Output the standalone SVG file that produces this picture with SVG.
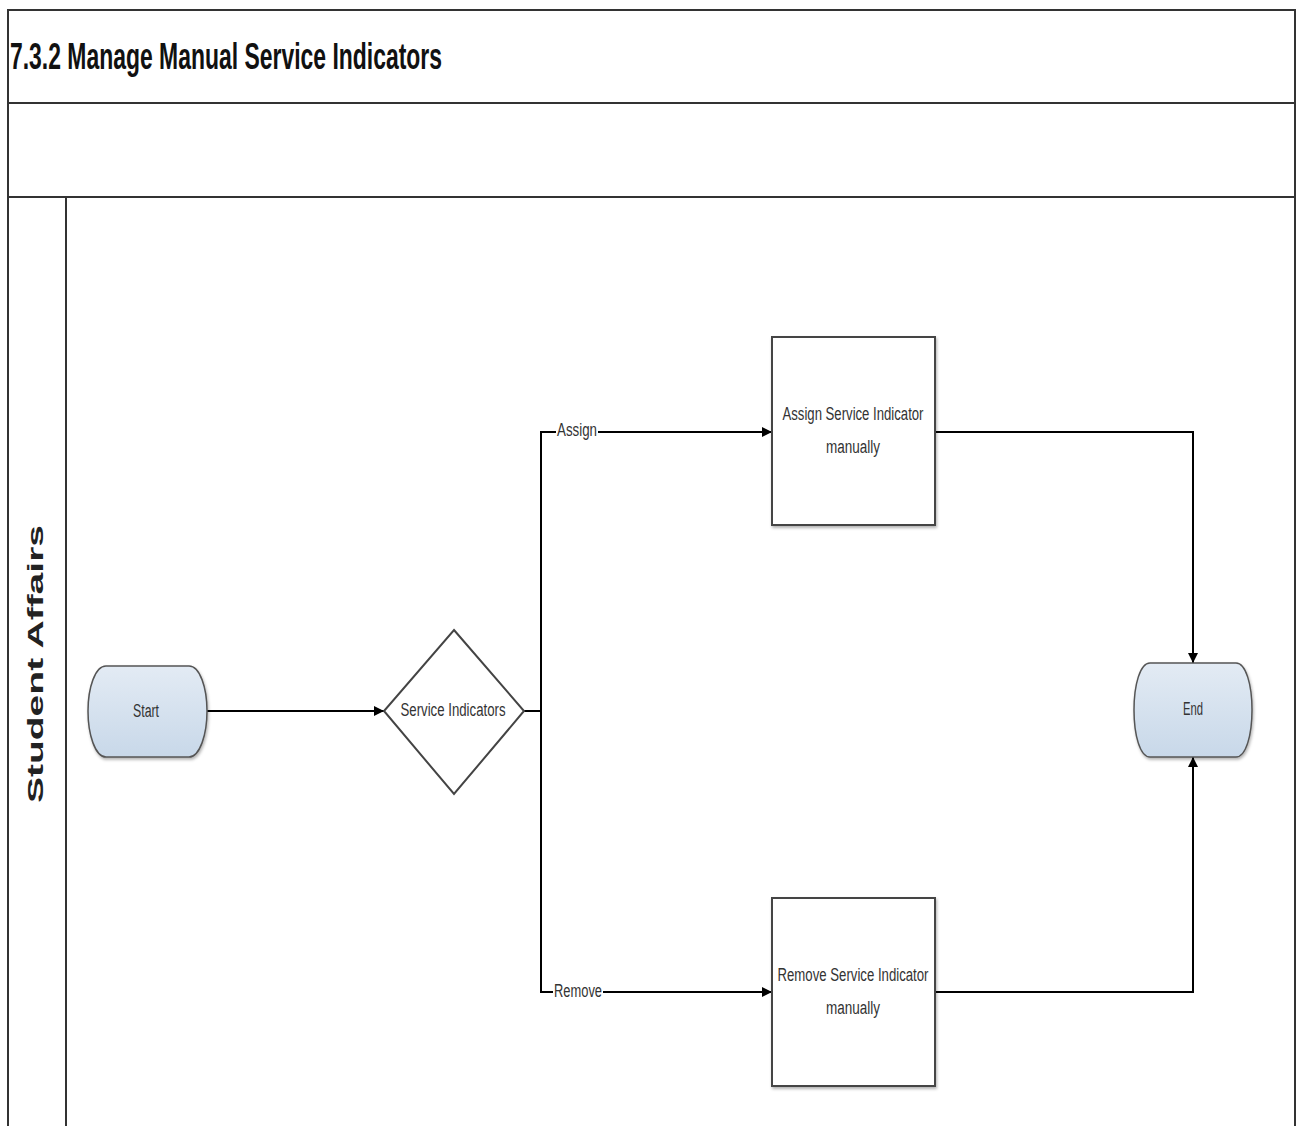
<svg xmlns="http://www.w3.org/2000/svg" width="1299" height="1126" viewBox="0 0 1299 1126">
<defs>
<linearGradient id="term" x1="0" y1="0" x2="0" y2="1">
<stop offset="0" stop-color="#e3ebf4"/>
<stop offset="1" stop-color="#c8d8e9"/>
</linearGradient>
<marker id="arr" viewBox="0 0 10 10" refX="10" refY="5" markerWidth="10" markerHeight="10" markerUnits="userSpaceOnUse" orient="auto">
<path d="M0,0 L10,5 L0,10 z" fill="#000"/>
</marker>
<filter id="sh" x="-10%" y="-10%" width="130%" height="130%">
<feDropShadow dx="1" dy="2" stdDeviation="1.5" flood-color="#000" flood-opacity="0.3"/>
</filter>
</defs>
<style>
.frame{fill:none;stroke:#333;stroke-width:2}
.box{fill:#fff;stroke:#444;stroke-width:2}
.term{fill:url(#term);stroke:#555;stroke-width:1.5}
.conn{fill:none;stroke:#000;stroke-width:2}
.t{font-family:"Liberation Sans",Arial,sans-serif;font-size:18px;fill:#333;text-anchor:middle;dominant-baseline:central}
.lbl{font-family:"Liberation Sans",Arial,sans-serif;font-size:18px;fill:#333;text-anchor:middle;dominant-baseline:central}
</style>
<rect width="1299" height="1126" fill="#fff"/>
<g id="pool">
<rect class="frame" x="8" y="10" width="1287" height="1130"/>
<line class="frame" x1="8" y1="103" x2="1295" y2="103" stroke-width="3"/>
<line class="frame" x1="8" y1="197" x2="1295" y2="197"/>
<line class="frame" x1="66" y1="197" x2="66" y2="1126"/>
<text x="10" y="69" font-family="Liberation Sans,Arial,sans-serif" font-size="36" font-weight="bold" fill="#111" textLength="432" lengthAdjust="spacingAndGlyphs">7.3.2 Manage Manual Service Indicators</text>
<text transform="translate(43,664) rotate(-90)" font-family="Liberation Sans,Arial,sans-serif" font-size="22" font-weight="bold" fill="#222" text-anchor="middle" textLength="278" lengthAdjust="spacingAndGlyphs">Student Affairs</text>
</g>
<g id="connectors">
<line class="conn" x1="207" y1="711" x2="384" y2="711" marker-end="url(#arr)"/>
<polyline class="conn" points="524,711 541,711 541,432 772,432" marker-end="url(#arr)"/>
<polyline class="conn" points="541,711 541,992 772,992" marker-end="url(#arr)"/>
<polyline class="conn" points="935,432 1193,432 1193,663" marker-end="url(#arr)"/>
<polyline class="conn" points="935,992 1193,992 1193,757" marker-end="url(#arr)"/>
<rect x="556" y="421" width="42" height="19" fill="#fff"/>
<text class="lbl" x="577" y="430" textLength="40" lengthAdjust="spacingAndGlyphs">Assign</text>
<rect x="553" y="981" width="50" height="19" fill="#fff"/>
<text class="lbl" x="578" y="991" textLength="48" lengthAdjust="spacingAndGlyphs">Remove</text>
</g>
<g id="start">
<path class="term" d="M106,666 H189 C200,666 207,688 207,711 C207,734 200,757 189,757 H106 C95,757 88,734 88,711 C88,688 95,666 106,666 Z" filter="url(#sh)"/>
<text class="t" x="146" y="711" textLength="26" lengthAdjust="spacingAndGlyphs">Start</text>
</g>
<g id="decision">
<polygon class="box" points="454,630 524,711 454,794 384,711"/>
<text class="t" x="453" y="710" textLength="105" lengthAdjust="spacingAndGlyphs">Service Indicators</text>
</g>
<g id="assign">
<rect class="box" x="772" y="337" width="163" height="188" filter="url(#sh)"/>
<text class="t" x="853" y="414" textLength="141" lengthAdjust="spacingAndGlyphs">Assign Service Indicator</text>
<text class="t" x="853" y="447" textLength="54" lengthAdjust="spacingAndGlyphs">manually</text>
</g>
<g id="remove">
<rect class="box" x="772" y="898" width="163" height="188" filter="url(#sh)"/>
<text class="t" x="853" y="975" textLength="151" lengthAdjust="spacingAndGlyphs">Remove Service Indicator</text>
<text class="t" x="853" y="1008" textLength="54" lengthAdjust="spacingAndGlyphs">manually</text>
</g>
<g id="end">
<path class="term" d="M1150,663 H1236 C1246,663 1252,685 1252,710 C1252,735 1246,757 1236,757 H1150 C1140,757 1134,735 1134,710 C1134,685 1140,663 1150,663 Z" filter="url(#sh)"/>
<text class="t" x="1193" y="709" textLength="20" lengthAdjust="spacingAndGlyphs">End</text>
</g>
</svg>
